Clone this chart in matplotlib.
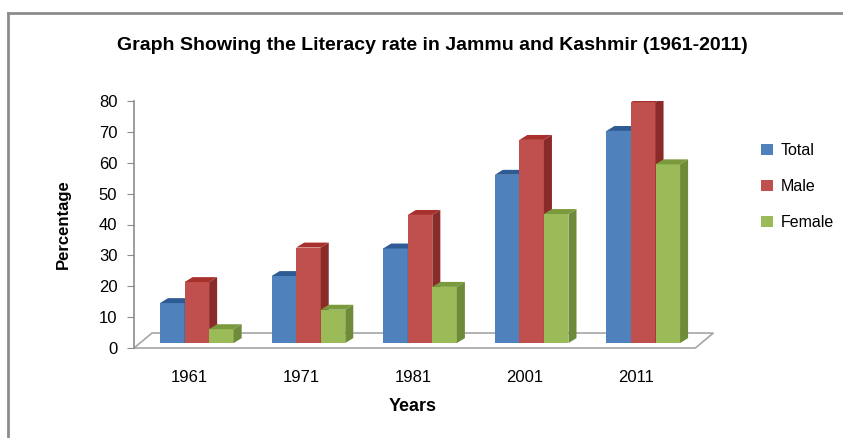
import matplotlib.pyplot as plt
from matplotlib.patches import Polygon
from matplotlib.lines import Line2D
import numpy as np

plt.rcParams['font.family'] = ['Liberation Sans', 'DejaVu Sans']

years = ['1961', '1971', '1981', '2001', '2011']
series = ['Total', 'Male', 'Female']
total = [12.95, 21.71, 30.64, 54.5, 68.7]
male = [19.75, 30.94, 41.5, 65.8, 78.0]
female = [4.5, 10.8, 18.2, 41.8, 57.9]

front = ['#4F81BD', '#C0504D', '#9BBB59']
side = ['#34598A', '#8A2B29', '#6E8B3A']
top = ['#2E5B94', '#A8302D', '#7A9A3C']

bw = 0.22       # bar width (category units)
shift = 0.063   # bars sit a bit behind the front floor edge
dx, dy = 0.072, 1.6   # 3D depth of bars
lift = 1.6

fig = plt.figure(figsize=(8.43, 4.38), dpi=100)
ax = fig.add_axes([134 / 843, 90 / 438, 558 / 843, 247 / 438])

x = np.arange(len(years))

# floor
fdx, fdy = 18 / 111.5, 4.85
floor = Polygon([(-0.5, 0), (4.53, 0), (4.53 + fdx, fdy), (-0.5 + fdx, fdy)],
                closed=True, facecolor='white', edgecolor='#a6a6a6', lw=1.2,
                clip_on=False, zorder=1)
ax.add_patch(floor)

for k, vals in enumerate([total, male, female]):
    xs = x + shift + (k - 1) * bw
    ax.bar(xs, vals, width=bw, bottom=lift, color=front[k], zorder=3 + k,
           label=series[k], linewidth=0)
    for xc, v in zip(xs, vals):
        x0, x1 = xc - bw / 2, xc + bw / 2
        t = lift + v
        ax.add_patch(Polygon([(x0, t), (x1, t), (x1 + dx, t + dy), (x0 + dx, t + dy)],
                             closed=True, facecolor=top[k], lw=0, zorder=3 + k))
        ax.add_patch(Polygon([(x1, lift), (x1 + dx, lift + dy), (x1 + dx, t + dy), (x1, t)],
                             closed=True, facecolor=side[k], lw=0, zorder=3 + k))

ax.set_xlim(-0.5, 4.5)
ax.set_ylim(0, 80)
ax.set_yticks(range(0, 81, 10))
ax.set_xticks(x)
ax.set_xticklabels(years)
for s in ['top', 'right', 'bottom']:
    ax.spines[s].set_visible(False)
ax.spines['left'].set_color('#8c8c8c')
ax.spines['left'].set_linewidth(1.2)
ax.tick_params(axis='y', direction='out', length=5, color='#8c8c8c', labelsize=12, pad=7)
ax.tick_params(axis='x', length=0, labelsize=12, pad=16)

ax.set_ylabel('Percentage', fontsize=12, fontweight='bold', labelpad=20)
ax.set_xlabel('Years', fontsize=13, fontweight='bold', labelpad=9)

fig.text(432 / 843, 1 - 45 / 438, 'Graph Showing the Literacy rate in Jammu and Kashmir (1961-2011)',
         ha='center', va='center', fontsize=14, fontweight='bold')

ax.legend(loc='upper left', bbox_to_anchor=(755 / 843, 1 - 137 / 438),
          bbox_transform=fig.transFigure, frameon=False, fontsize=11.5,
          handlelength=0.7, handleheight=0.7, handletextpad=0.5, labelspacing=1.3,
          borderaxespad=0)

# chart border
fig.add_artist(Line2D([8 / 843, 8 / 843], [0, 1 - 13 / 438], color='#8c8c8c', lw=2))
fig.add_artist(Line2D([8 / 843, 1], [1 - 13 / 438, 1 - 13 / 438], color='#8c8c8c', lw=2))

fig.savefig('out.png', dpi=100)
